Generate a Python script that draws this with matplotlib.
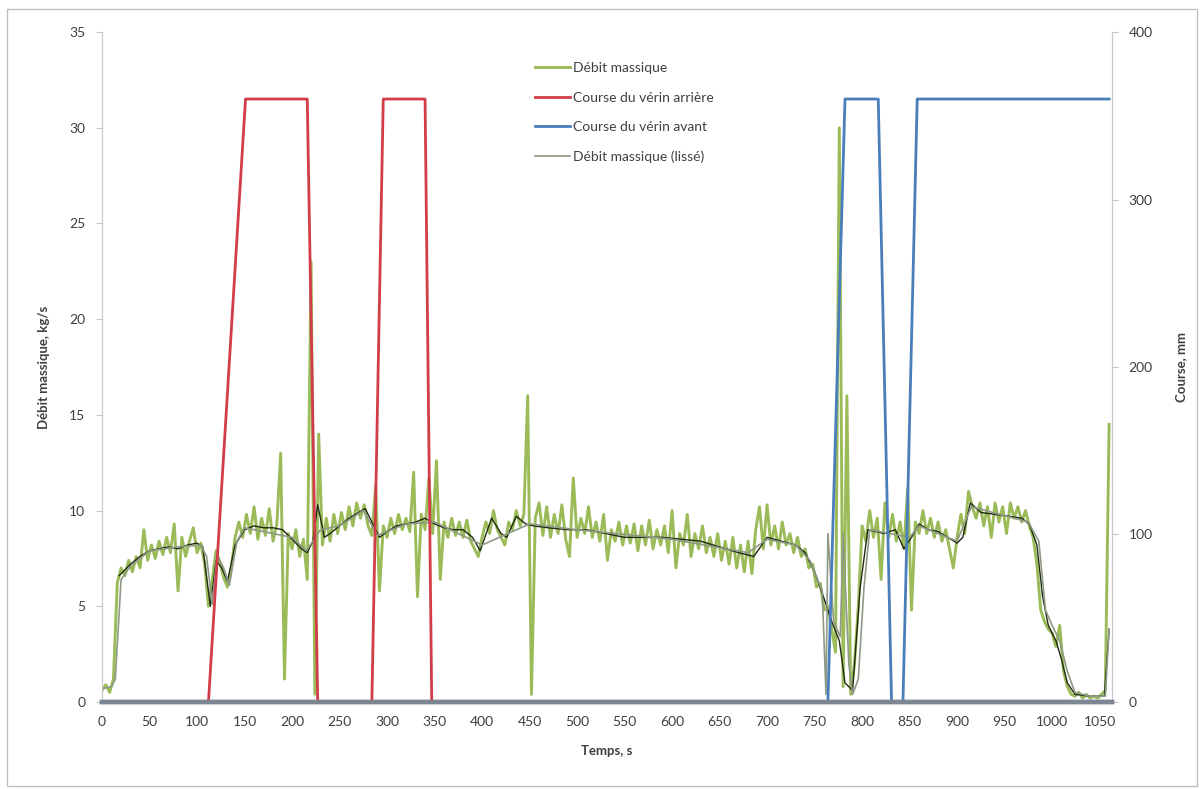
import numpy as np
import matplotlib
matplotlib.use("Agg")
import matplotlib.pyplot as plt
from matplotlib.patches import Rectangle

plt.rcParams['font.family'] = ['Lato', 'DejaVu Sans']

# Débit massique brut (kg/s), un point toutes les 4 s de 0 à 1060 s
debit = [
    0.6, 0.9, 0.5, 1.2, 6.2, 7.0, 6.6, 7.4, 6.8, 7.6, 7.0, 9.0, 7.4, 8.2, 7.5, 8.4, 7.7, 8.6, 7.8, 9.3, 5.8, 8.6, 7.6, 8.4, 9.1,
    7.8, 8.3, 7.2, 5.0, 6.4, 7.9, 7.3, 6.5, 6.0, 7.0, 8.6, 9.4, 8.6, 9.8, 8.8, 10.2, 8.5, 9.6, 8.7, 10.1, 8.4, 9.3, 13.0, 1.2, 8.8,
    8.0, 9.0, 7.6, 8.5, 6.4, 23.0, 0.4, 14.0, 8.2, 9.6, 8.4, 9.8, 8.8, 9.9, 9.0, 10.2, 9.2, 10.4, 9.6, 10.3, 9.2, 8.7, 11.3, 5.8, 9.2,
    8.6, 9.6, 8.8, 9.8, 9.0, 9.6, 8.9, 12.0, 5.5, 9.8, 9.0, 11.7, 8.8, 12.6, 6.4, 9.4, 8.6, 9.6, 8.7, 9.4, 8.6, 9.5, 8.4, 8.0, 7.6,
    8.6, 9.4, 8.8, 10.0, 9.0, 8.6, 8.2, 9.4, 9.0, 10.0, 9.2, 9.8, 16.0, 0.4, 9.6, 10.4, 8.7, 10.2, 8.6, 9.8, 8.8, 10.3, 8.5, 7.6, 11.7,
    8.6, 9.6, 8.8, 10.2, 8.6, 9.4, 8.4, 9.8, 7.4, 9.0, 8.4, 9.4, 8.2, 9.2, 8.3, 9.3, 7.9, 9.2, 8.2, 9.5, 8.0, 9.0, 8.2, 9.2, 7.8,
    10.0, 7.0, 8.8, 8.2, 9.8, 7.6, 8.8, 8.0, 9.2, 7.8, 8.6, 7.6, 8.8, 7.4, 8.4, 7.2, 8.6, 7.0, 8.2, 6.8, 8.4, 6.7, 9.0, 10.2, 8.0,
    10.3, 8.2, 9.2, 8.0, 9.4, 8.2, 8.8, 7.8, 8.6, 7.6, 8.0, 7.0, 7.2, 6.0, 6.2, 4.8, 5.0, 3.8, 2.6, 30.0, 0.8, 16.0, 0.4, 2.0, 5.0,
    9.2, 8.4, 10.0, 8.6, 9.6, 6.4, 10.4, 8.6, 9.8, 8.4, 9.4, 8.0, 11.2, 4.8, 9.4, 8.8, 10.0, 8.8, 9.6, 8.6, 9.4, 8.4, 9.0, 8.0, 7.0,
    8.6, 9.8, 8.8, 11.0, 10.2, 9.6, 10.4, 9.2, 10.2, 8.6, 10.4, 9.4, 10.2, 8.8, 10.4, 9.6, 10.2, 9.4, 10.0, 9.2, 8.6, 7.2, 4.8, 4.2, 3.8,
    3.6, 2.9, 4.0, 1.6, 0.8, 0.4, 0.3, 0.5, 0.2, 0.4, 0.2, 0.3, 0.2, 0.4, 0.6, 14.5,
]
temps = np.arange(0, 1061, 4)

# Débit massique lissé
t_lisse = [0, 10, 14, 20, 30, 50, 80, 104, 110, 116, 121, 128, 134, 142, 150, 200, 215, 230, 250, 275,
           290, 320, 350, 400, 450, 500, 600, 680, 700, 730, 745, 758, 762, 764, 770, 777, 780, 786, 790, 796,
           802, 808, 850, 860, 900, 915, 975, 986, 993, 1000, 1008, 1016, 1024, 1040, 1056, 1060]
lisse = [0.7, 0.8, 1.2, 6.4, 7.1, 7.9, 8.1, 8.2, 7.6, 5.1, 7.7, 7.0, 6.1, 8.4, 9.1, 8.6, 7.9, 9.0, 9.2, 10.0,
         8.7, 9.3, 9.4, 8.2, 9.3, 9.0, 8.5, 7.8, 8.5, 8.2, 7.4, 5.8, 0.4, 8.8, 4.2, 3.4, 8.8, 2.0, 0.4, 1.2,
         6.0, 9.0, 8.6, 9.2, 8.4, 10.2, 9.4, 8.4, 4.8, 4.0, 3.2, 1.6, 0.5, 0.3, 0.3, 3.8]

# moyenne mobile (trait sombre)
t_moy = [18, 30, 40, 50, 60, 70, 80, 90, 100, 106, 114, 120, 126, 132, 140, 150, 160, 170, 180, 190,
         200, 210, 216, 222, 227, 234, 240, 250, 260, 270, 277, 286, 292, 300, 310, 320, 330, 340, 350, 360,
         370, 380, 390, 398, 410, 420, 426, 436, 446, 454, 470, 490, 510, 530, 550, 570, 590, 610, 630, 650,
         670, 686, 700, 715, 730, 740, 750, 760, 768, 776, 782, 790, 798, 806, 815, 823, 835, 844, 852, 860,
         870, 880, 890, 900, 906, 914, 925, 940, 955, 968, 976, 984, 990, 996, 1004, 1010, 1016, 1024, 1040, 1055, 1060]
moy = [6.6, 7.2, 7.6, 7.9, 8.0, 8.1, 8.0, 8.2, 8.3, 8.1, 5.0, 7.4, 7.0, 6.3, 8.2, 9.0, 9.2, 9.1, 9.1, 9.0,
       8.5, 8.0, 7.8, 8.4, 10.3, 8.6, 8.8, 9.2, 9.6, 9.9, 10.1, 9.2, 8.6, 8.9, 9.2, 9.3, 9.4, 9.6, 9.3, 9.1,
       9.0, 9.0, 8.6, 7.9, 9.6, 8.8, 8.6, 9.7, 9.3, 9.2, 9.1, 9.0, 9.0, 8.8, 8.6, 8.6, 8.6, 8.5, 8.4, 8.1,
       7.8, 7.6, 8.6, 8.4, 8.2, 7.8, 6.8, 5.4, 4.2, 3.2, 1.0, 0.6, 6.0, 9.0, 8.9, 8.8, 9.0, 8.0, 8.6, 9.3,
       9.0, 8.9, 8.6, 8.3, 8.6, 10.4, 9.9, 9.8, 9.7, 9.6, 9.3, 8.2, 5.5, 4.0, 3.2, 2.2, 1.0, 0.4, 0.3, 0.3, 3.8]

# Course des vérins (mm)
t_arriere = [0, 112, 151, 216, 227, 284, 296, 340, 347, 1060]
course_arriere = [0, 0, 360, 360, 0, 0, 360, 360, 0, 0]
t_avant = [0, 764, 782, 817, 831, 843, 858, 1060]
course_avant = [0, 0, 360, 360, 0, 0, 360, 360]

x_ticks = list(range(0, 1051, 50))

vert = '#9bbb59'
rouge = '#d23c48'
bleu = '#4a7ebb'
gris = '#8e9a86'
texte = '#404040'

fig = plt.figure(figsize=(12.02, 7.89), dpi=100)
ax = fig.add_axes([0.0849, 0.1103, 0.8402, 0.8491])
ax2 = ax.twinx()

l1, = ax.plot(temps, debit, color=vert, lw=2.1, label='Débit massique')
ax.plot(t_moy, moy, color='#1f2a12', lw=1.0)
l4, = ax.plot(t_lisse, lisse, color=gris, lw=1.2, label='Débit massique (lissé)')
l2, = ax2.plot(t_arriere, course_arriere, color=rouge, lw=2.0, label='Course du vérin arrière', clip_on=False)
l3, = ax2.plot(t_avant, course_avant, color=bleu, lw=2.0, label='Course du vérin avant', clip_on=False)

ax.set_xlim(0, 1063)
ax.set_ylim(0, 35)
ax2.set_ylim(0, 400)
ax.set_xticks(x_ticks)
ax.set_yticks(range(0, 36, 5))
ax2.set_yticks(range(0, 401, 100))

for a in (ax, ax2):
    a.spines['top'].set_visible(False)
    for s in ('left', 'right'):
        a.spines[s].set_color('#c8c8c8')
    a.spines['bottom'].set_color('#7d8793')
    a.spines['bottom'].set_linewidth(3.2)
    a.tick_params(colors='#c8c8c8', labelcolor=texte, labelsize=10, length=4, pad=8)
ax.tick_params(axis='x', length=0, pad=10)

ax.set_xlabel('Temps, s', fontsize=9.5, fontweight='bold', color=texte, labelpad=12)
ax.set_ylabel('Débit massique, kg/s', fontsize=9.5, fontweight='bold', color=texte, labelpad=14)
ax2.set_ylabel('Course, mm', fontsize=9.5, fontweight='bold', color=texte, labelpad=16)

fig.legend(handles=[l1, l2, l3, l4], loc='upper left', bbox_to_anchor=(0.435, 0.937),
           frameon=False, fontsize=10, labelspacing=1.25, handlelength=2.5,
           handletextpad=0.2, labelcolor=texte)

fig.patches.append(Rectangle((0.006, 0.004), 0.99, 0.984, transform=fig.transFigure,
                             fill=False, ec='#bfbfbf', lw=1.0))

fig.savefig('out.png', dpi=100)
